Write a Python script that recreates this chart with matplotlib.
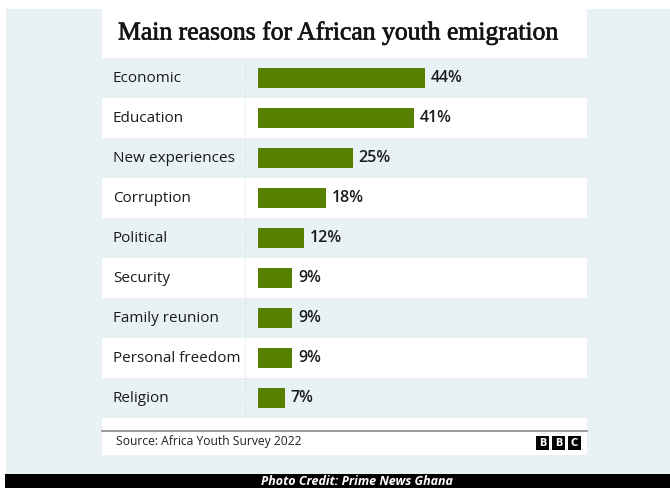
"""Main reasons for African youth emigration - BBC style bar chart."""

import matplotlib.pyplot as plt
import matplotlib.patheffects as pe
from matplotlib.patches import Rectangle

reasons = ['Economic', 'Education', 'New experiences', 'Corruption', 'Political',
           'Security', 'Family reunion', 'Personal freedom', 'Religion']
shares = [44, 41, 25, 18, 12, 9, 9, 9, 7]
value_labels = [f'{v}%' for v in shares]

title = 'Main reasons for African youth emigration'
source = 'Source: Africa Youth Survey 2022'
credit = 'Photo Credit: Prime News Ghana'

BG = '#e8f1f3'
GREEN = '#588000'
W, H = 670, 488

fig = plt.figure(figsize=(6.7, 4.88), dpi=100)
fig.patch.set_facecolor('white')


def px(x0, y0, x1, y1):
    """Pixel box (top-left origin) -> figure fraction rect."""
    return [x0 / W, 1 - y1 / H, (x1 - x0) / W, (y1 - y0) / H]


# page background, card and bottom strip
bg = fig.add_axes(px(0, 0, W, H))
bg.set_xlim(0, W)
bg.set_ylim(H, 0)
bg.axis('off')
bg.add_patch(Rectangle((6, 9), W - 6, 465, color=BG, lw=0))
bg.add_patch(Rectangle((102, 9), 485, 446, color='white', lw=0))
bg.add_patch(Rectangle((5, 474), W - 5, 14, color='black', lw=0))
bg.plot([102, 587], [431, 431], color='#8a8a8a', lw=1.2)
bg.text(118, 33, title, fontsize=18.5, family='Liberation Serif',
        color='#141414', va='center', ha='left',
        path_effects=[pe.withStroke(linewidth=0.5, foreground='#141414')])
bg.text(116, 441, source, fontsize=8.7, family='Open Sans',
        color='#222222', va='center', ha='left')
for i, letter in enumerate('BBC'):
    x0 = 536 + i * 16
    bg.add_patch(Rectangle((x0, 436), 13, 14, color='black', lw=0))
    bg.text(x0 + 6.5, 443, letter, color='white', fontsize=7,
            fontweight='bold', family='DejaVu Sans', ha='center', va='center')
bg.text(357, 481.5, credit, color='white', fontsize=9, fontweight='bold',
        fontstyle='italic', family='Open Sans', ha='center', va='center')

# chart area
ax = fig.add_axes(px(102, 58, 587, 418))
n = len(reasons)
ax.set_ylim(n - 0.5, -0.5)
ppu = 3.8  # pixels per percent
ax.set_xlim(-(258 - 102) / ppu, (587 - 258) / ppu)
ax.axis('off')

for i in range(n):
    ax.axhspan(i - 0.5, i + 0.5, color=BG if i % 2 == 0 else 'white', lw=0, zorder=0)

ax.barh(range(n), shares, height=0.48, color=GREEN, zorder=2)
ax.axvline(-(258 - 245) / ppu, color='#d8dfe2', lw=0.8, ls=':', zorder=1)

for i, (name, v, lab) in enumerate(zip(reasons, shares, value_labels)):
    ax.text(-(258 - 113) / ppu, i, name, fontsize=11, family='Open Sans',
            color='#1a1a1a', va='center', ha='left')
    ax.text(v + 1.5, i, lab, fontsize=11.5, family='Open Sans', fontweight='semibold',
            color='#1a1a1a', va='center', ha='left')

fig.savefig('out.png', dpi=100)
